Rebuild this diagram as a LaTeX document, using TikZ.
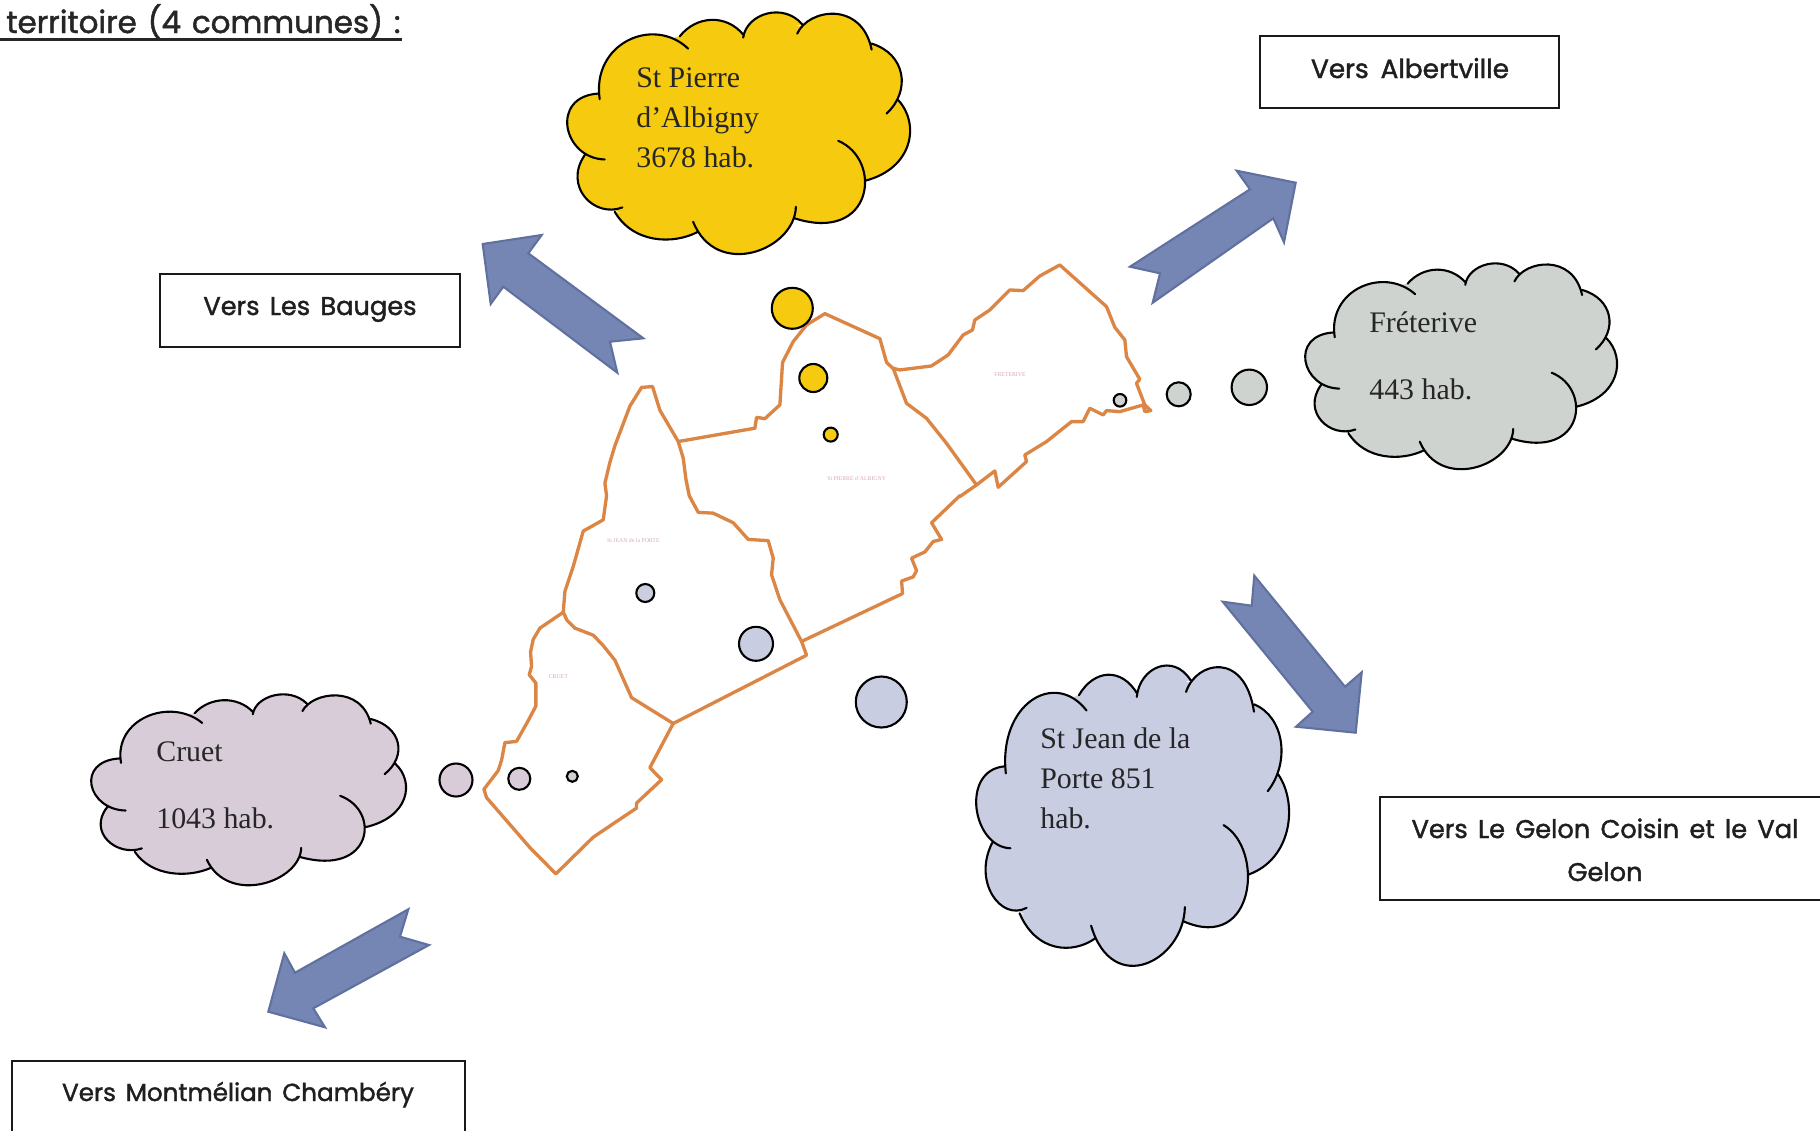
\documentclass[tikz,border=0pt]{standalone}
\usepackage{fontspec}
\setmainfont{Liberation Serif}
\newfontfamily\boxfont[FakeBold=1.5]{Poppins}
\definecolor{yel}{HTML}{F6CA0E}
\definecolor{sjean}{HTML}{C9CDE2}
\definecolor{crt}{HTML}{D8CCD8}
\definecolor{frt}{HTML}{CFD3D0}
\definecolor{arrowfill}{HTML}{7585B4}
\definecolor{arrowedge}{HTML}{61719F}
\definecolor{limit}{HTML}{DC8646}
\definecolor{tiny}{HTML}{D9A8BE}
\newcommand\lobes{
 (1.80,2.97) .. controls (1.55,1.30) and (3.40,0.45) .. (4.45,1.45)
 (4.20,1.08) .. controls (4.70,0.45) and (5.60,0.40) .. (6.12,1.05)
 (6.10,1.12) .. controls (6.20,0.40) and (7.30,0.05) .. (7.87,0.72)
 (7.72,1.00) .. controls (8.05,0.25) and (9.65,0.00) .. (9.95,1.48)
 (9.95,1.30) .. controls (10.95,1.60) and (11.15,2.70) .. (10.40,3.40)
 (10.75,3.00) .. controls (11.40,3.70) and (11.20,5.05) .. (9.75,5.42)
 (8.95,4.22) .. controls (10.30,4.80) and (10.00,7.30) .. (7.65,6.55)
 (7.68,6.20) .. controls (7.65,7.50) and (5.30,8.40) .. (4.60,6.65)
 (4.75,6.95) .. controls (4.00,7.35) and (2.80,7.30) .. (2.25,6.35)
 (2.48,6.22) .. controls (1.65,6.55) and (0.70,5.60) .. (1.35,4.65)
 (1.95,4.78) .. controls (0.70,4.75) and (0.30,2.90) .. (1.75,2.80)
}
\newcommand\cloudat[5]{%
 \begin{scope}[shift={(#1,#2)},xscale={(#3-#1)/10.28},yscale={(#4-#2)/7.30},shift={(-0.82,-0.35)}]
  \filldraw[#5,line width=0.5pt,line join=round] (1.78,2.85)--(2.7,1.6)--(4.20,1.08)--(5.15,0.9)--(6.11,1.08)--(6.9,0.7)--(7.78,0.78)--(8.85,0.7)--(9.95,1.35)--(10.5,2.2)--(10.75,3.00)--(10.8,4.3)--(9.75,5.42)--(9.2,6.2)--(7.66,6.55)--(6.2,7.2)--(4.72,6.92)--(3.5,6.9)--(2.33,6.33)--(1.5,5.8)--(1.35,4.65)--(1.1,3.8)--cycle;
  \fill[#5] \lobes;
  \draw[cloudline] \lobes;
 \end{scope}}
\tikzset{
 cloudline/.style={line width=2.1*0.569pt,black,line cap=round},
 cloudtext/.style={anchor=base west,inner sep=0pt,font=\fontsize{17}{18}\selectfont,text=black!85},
 boxtext/.style={anchor=base,inner sep=0pt,font=\boxfont\fontsize{14.6}{18}\selectfont,text=black!88},
 framebox/.style={draw=black!90,line width=1.3pt,fill=white},
 bluearrow/.style={fill=arrowfill,draw=arrowedge,line width=1.2pt,line join=miter},
 limitline/.style={draw=limit,line width=1.9pt,line join=round,line cap=round},
 dot/.style={draw=black,line width=1.2pt},
 tinytext/.style={inner sep=0pt,text=tiny,font=\fontsize{3.3}{4}\selectfont},
}
\begin{document}
\begin{tikzpicture}[x=0.02cm,y=-0.02cm]
\useasboundingbox (0,0) rectangle (1820,1130);
\clip (0,0) rectangle (1820,1130);
\fill[white] (0,0) rectangle (1820,1130);
% title
\node[anchor=base west,inner sep=0pt,font=\boxfont\fontsize{17.6}{22}\selectfont,text=black!85] (title) at (6,33) {territoire\hspace{0.35em}(4\hspace{0.35em}communes)\hspace{0.35em}:};
\coordinate (ula) at (0,39.5);
\coordinate (ulb) at (402,39.5);
\draw[line width=1.7pt,black!85] (ula) -- (ulb);
% boxes
\draw[framebox] (160,274) rectangle (460,347);
\node[boxtext] (bauges) at (310,315) {Vers\hspace{0.4em}Les\hspace{0.4em}Bauges};
\draw[framebox] (1260,36) rectangle (1559,108);
\node[boxtext,font=\boxfont\fontsize{15}{18}\selectfont] (albert) at (1410,78) {Vers\hspace{0.45em}Albertville};
\draw[framebox] (1380,797) rectangle (1830,900);
\node[boxtext] (gelonA) at (1605,838) {Vers\hspace{0.4em}Le\hspace{0.4em}Gelon\hspace{0.4em}Coisin\hspace{0.4em}et\hspace{0.4em}le\hspace{0.4em}Val};
\node[boxtext] (gelonB) at (1605,881) {Gelon};
\draw[framebox] (12,1061) rectangle (465,1140);
\node[boxtext,font=\boxfont\fontsize{14}{18}\selectfont] (mont) at (238,1101) {Vers\hspace{0.4em}Montmélian\hspace{0.4em}Chambéry};
% arrows
\draw[bluearrow] (482.7,244)--(541.7,235)--(528.3,253.3)--(643.3,338.3)--(610,341.7)--(617.3,372.7)--(503.3,286.7)--(490.7,304)--cycle;
\draw[bluearrow] (1295.7,182.7)--(1236.7,170.7)--(1250,189.3)--(1130,266.7)--(1160,273.3)--(1152.7,302.7)--(1273.3,218.3)--(1284,242.3)--cycle;
\draw[bluearrow] (1355.7,732.7)--(1361.7,672.3)--(1345,686.7)--(1254.3,575.7)--(1251.7,605.7)--(1222.7,601.7)--(1312.7,711.7)--(1296,726.7)--cycle;
\draw[bluearrow] (268.3,1011.7)--(284.3,953.3)--(295,972.7)--(408.3,909.3)--(400,936.7)--(429,945)--(313.3,1008.3)--(325,1027.3)--cycle;
% clouds
\cloudat{567}{12}{910}{255}{yel}
\cloudat{976}{665}{1289}{967}{sjean}
\cloudat{91}{694}{406}{886}{crt}
\cloudat{1305}{263}{1617}{470}{frt}
\node[cloudtext] (p1) at (636,87) {St Pierre};
\node[cloudtext] (p2) at (636,127) {d’Albigny};
\node[cloudtext] (p3) at (636,167) {3678 hab.};
\node[cloudtext] (j1) at (1040,748) {St Jean de la};
\node[cloudtext] (j2) at (1040,788) {Porte 851};
\node[cloudtext] (j3) at (1040,828) {hab.};
\node[cloudtext] (c1) at (156,761) {Cruet};
\node[cloudtext] (c2) at (156,828) {1043 hab.};
\node[cloudtext] (f1) at (1369,332) {Fréterive};
\node[cloudtext] (f2) at (1369,399) {443 hab.};
% map, west part (coordinates of the crop at 460,250)
\begin{scope}[xshift=9.2cm,yshift=-5cm,x=0.006667cm,y=-0.008333cm]
\draw[limitline] (310,870)--(240,908)--(220,935)--(212,965)--(215,1000)--(208,1020)--(228,1040)--(228,1095)--(205,1130)--(170,1180)--(135,1183)--(125,1225)--(115,1250)--(72,1295)--(80,1315)--(210,1435)--(288,1498)--(400,1410)--(530,1340)--(530,1328)--(605,1272)--(570,1243)--(640,1137)--(515,1075)--(490,1030)--(465,985)--(430,950)--(400,925)--(345,908)--(322,890)--cycle;
\draw[limitline] (310,870)--(315,820)--(340,760)--(370,675)--(430,648)--(440,590)--(435,560)--(450,510)--(465,470)--(510,375)--(545,330)--(578,328)--(600,385)--(655,460)--(670,500)--(678,550)--(688,590)--(715,630)--(760,632)--(820,655)--(865,695)--(925,698)--(940,740)--(935,780)--(960,840)--(1025,940)--(1040,973)--(640,1137);
\draw[limitline] (655,460)--(885,428)--(890,402)--(915,405)--(960,372)--(968,270)--(1000,220)--(1040,180)--(1095,153)--(1260,213)--(1280,270)--(1300,285);
\draw[limitline] (1500,590)--(1415,655)--(1445,695)--(1420,700)--(1395,725)--(1355,740)--(1370,770)--(1360,785)--(1325,795)--(1328,825)--(1025,940);
\end{scope}
% map, east part (coordinates of the crop at 850,240)
\begin{scope}[xshift=17cm,yshift=-4.8cm,x=0.006667cm,y=-0.006667cm]
\draw[limitline] (130,385)--(150,390)--(245,378)--(295,345)--(340,285)--(368,270)--(375,240)--(420,210)--(480,150)--(520,152)--(570,108)--(630,75)--(770,200)--(795,262)--(825,300)--(830,350)--(870,418)--(860,430)--(885,495)--(903,512)--(885,515)--(880,495)--(810,515)--(770,512)--(760,525)--(720,505)--(700,545)--(665,545)--(590,605)--(525,645)--(530,665)--(445,742)--(435,693)--(380,735)--(330,770);
\draw[limitline] (130,385)--(170,490)--(230,535)--(290,610)--(380,735);
\end{scope}
% tiny labels
\node[tinytext] (lp) at (856.7,478.3) {St PIERRE d'ALBIGNY};
\node[tinytext] (lj) at (633.3,540.4) {St JEAN de la PORTE};
\node[tinytext] (lc) at (558.3,677) {CRUET};
\node[tinytext] (lf) at (1010,374.7) {FRETERIVE};
% dots
\draw[dot,fill=yel] (792.3,308.3) circle (20.5);
\draw[dot,fill=yel] (813.3,378) circle (14);
\draw[dot,fill=yel] (830.7,434.6) circle (7);
\draw[dot,fill=sjean!85!frt] (645.3,593) circle (9);
\draw[dot,fill=sjean] (756,643.8) circle (17);
\draw[dot,fill=sjean] (881.3,702) circle (25.5);
\draw[dot,fill=frt] (572.3,776.3) circle (5.5);
\draw[dot,fill=crt] (519.3,778.8) circle (11);
\draw[dot,fill=crt] (456,780) circle (16.5);
\draw[dot,fill=frt] (1120,400.3) circle (6.3);
\draw[dot,fill=frt] (1178.7,394.3) circle (12);
\draw[dot,fill=frt] (1249.3,387.3) circle (17.7);
\end{tikzpicture}
\end{document}
